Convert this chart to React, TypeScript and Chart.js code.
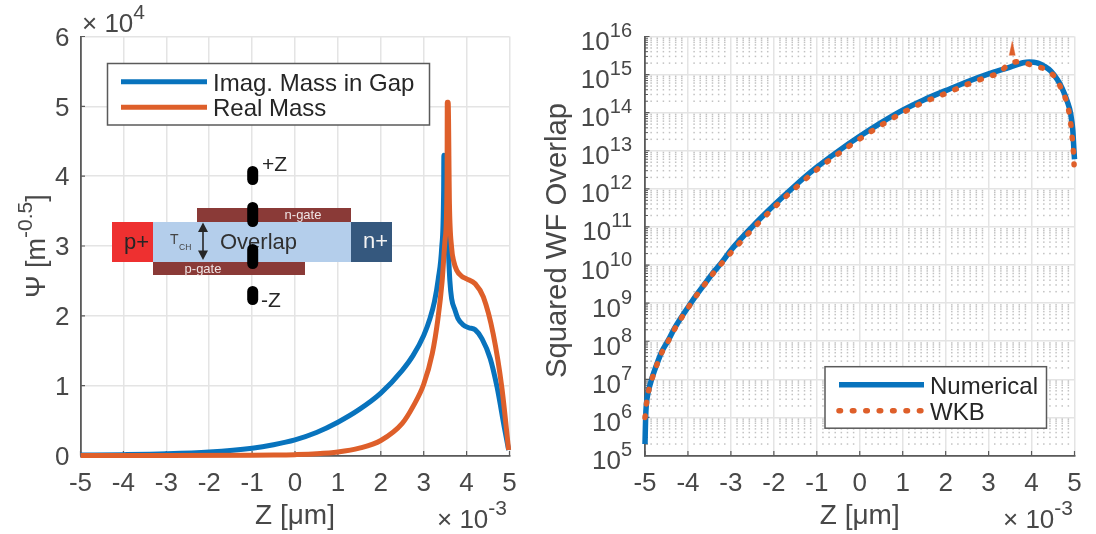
import React, { useEffect, useRef } from "react";
import { Chart, registerables } from "chart.js";

Chart.register(...registerables);

const FONT = '"Liberation Sans", Arial, sans-serif';
const TICK_COLOR = "#484848";
const TEXT_DARK = "#262626";
const BLUE = "#0873BD";
const ORANGE = "#DE5F2A";
const GRID = "#E4E4E4";
const AXIS = "#5A5A5A";

const xTicks = [-5, -4, -3, -2, -1, 0, 1, 2, 3, 4, 5];
const psiTicks = [0, 1, 2, 3, 4, 5, 6];
const decadeExponents = [5, 6, 7, 8, 9, 10, 11, 12, 13, 14, 15, 16];
const minorMultipliers = [2, 3, 4, 5, 6, 7, 8, 9];
const minorXFractions = [1 / 7, 2 / 7, 3 / 7, 4 / 7, 5 / 7, 6 / 7];

// left panel: Z in 1e-3 um, psi in 1e4
const imagZ = [-5, -4, -3, -2, -1, -0.5, 0, 0.5, 1, 1.5, 2, 2.5, 2.75, 3, 3.15, 3.25, 3.34, 3.42, 3.465, 3.47, 3.53, 3.57, 3.61, 3.65, 3.73, 3.8, 3.92, 4.05, 4.2, 4.36, 4.55, 4.71, 4.88, 4.98];
const imagPsi = [0.006, 0.012, 0.024, 0.05, 0.105, 0.155, 0.225, 0.33, 0.477, 0.66, 0.893, 1.22, 1.43, 1.72, 1.97, 2.2, 2.53, 2.98, 3.8, 4.3, 3.6, 3.0, 2.5, 2.25, 2.08, 1.96, 1.87, 1.83, 1.8, 1.67, 1.39, 0.98, 0.4, 0.08];

const realZ = [-5, -3, -1, -0.5, 0, 0.5, 1, 1.5, 2, 2.5, 2.75, 3, 3.2, 3.33, 3.43, 3.5, 3.545, 3.55, 3.57, 3.6, 3.65, 3.7, 3.77, 3.88, 4.0, 4.2, 4.39, 4.62, 4.82, 4.98];
const realPsi = [0.0003, 0.0005, 0.003, 0.006, 0.012, 0.024, 0.05, 0.105, 0.215, 0.46, 0.7, 1.02, 1.46, 1.95, 2.5, 3.1, 3.94, 5.06, 5.06, 3.6, 2.98, 2.78, 2.65, 2.57, 2.53, 2.46, 2.27, 1.74, 0.98, 0.08];

// right panel
const numericZ = [-5, -4.985, -4.97, -4.92, -4.84, -4.73, -4.61, -4.46, -4.32, -4.145, -3.97, -3.8, -3.6, -3.42, -3.21, -3, -2.5, -2, -1.5, -1, -0.5, 0, 0.5, 1, 1.5, 2, 2.5, 3, 3.5, 3.8, 3.95, 4.05, 4.15, 4.3, 4.45, 4.6, 4.71, 4.83, 4.91, 4.96, 4.99, 5];
const numericOverlap = [2e5, 1e6, 2.1e6, 4.9e6, 1.05e7, 2.4e7, 5.3e7, 1.05e8, 2.1e8, 4.4e8, 8.7e8, 1.65e9, 3.3e9, 6.2e9, 1.18e10, 2.45e10, 1.02e11, 3.7e11, 1.23e12, 3.7e12, 9.8e12, 2.4e13, 5.5e13, 1.17e14, 2.2e14, 3.8e14, 6.5e14, 1.05e15, 1.58e15, 2.05e15, 2.15e15, 2.12e15, 2e15, 1.65e15, 1.23e15, 7.4e14, 4.4e14, 2e14, 9.5e13, 3.5e13, 9e12, 6e12];

const wkbZ = [-5, -4.97, -4.92, -4.84, -4.73, -4.61, -4.46, -4.32, -4.145, -3.97, -3.8, -3.6, -3.42, -3.21, -3, -2.5, -2, -1.5, -1, -0.5, 0, 0.5, 1, 1.5, 2, 2.5, 3, 3.25, 3.46, 3.72, 4.01, 4.3, 4.54, 4.69, 4.81, 4.88, 4.92, 4.95, 4.977, 4.99];
const wkbOverlap = [1e6, 2.1e6, 4.7e6, 1e7, 2.3e7, 5e7, 1e8, 2e8, 4.2e8, 8.3e8, 1.6e9, 3.2e9, 5.9e9, 1.12e10, 2.1e10, 8.7e10, 3.2e11, 1.05e12, 3.2e12, 8.3e12, 2.05e13, 4.7e13, 1e14, 1.9e14, 3.2e14, 5.5e14, 8.9e14, 1.12e15, 1.85e15, 2.2e15, 1.75e15, 1.4e15, 8.7e14, 4.3e14, 2e14, 9.3e13, 4.4e13, 2e13, 9e12, 4.3e12];

const wkbSpikeZ = [3.48, 3.55, 3.62];
const wkbSpikeOverlap = [3.16e15, 7.4e15, 3.16e15];

const pair = (xs: number[], ys: number[]) => xs.map((x, i) => ({ x, y: ys[i] }));

function superText(
  ctx: CanvasRenderingContext2D,
  base: string,
  sup: string,
  x: number,
  y: number,
  size: number,
  supSize: number,
  rise: number,
  color: string,
) {
  ctx.fillStyle = color;
  ctx.textAlign = "left";
  ctx.textBaseline = "alphabetic";
  ctx.font = `${size}px ${FONT}`;
  ctx.fillText(base, x, y);
  const w = ctx.measureText(base).width;
  ctx.font = `${supSize}px ${FONT}`;
  ctx.fillText(sup, x + w, y - rise);
}

function drawLegend(
  ctx: CanvasRenderingContext2D,
  chart: any,
  box: [number, number, number, number],
  lineX: [number, number],
  rows: number[],
  textX: number,
) {
  ctx.save();
  ctx.fillStyle = "#fff";
  ctx.fillRect(box[0], box[1], box[2], box[3]);
  ctx.strokeStyle = "#5A5A5A";
  ctx.lineWidth = 1.5;
  ctx.strokeRect(box[0], box[1], box[2], box[3]);
  chart.data.datasets.forEach((ds: any, i: number) => {
    if (rows[i] === undefined) return;
    ctx.save();
    ctx.strokeStyle = ds.borderColor;
    ctx.lineWidth = ds.borderWidth;
    ctx.lineCap = ds.borderDash ? "round" : "butt";
    ctx.setLineDash(ds.borderDash || []);
    ctx.beginPath();
    ctx.moveTo(lineX[0], rows[i]);
    ctx.lineTo(lineX[1], rows[i]);
    ctx.stroke();
    ctx.restore();
    ctx.fillStyle = TEXT_DARK;
    ctx.font = `24px ${FONT}`;
    ctx.textAlign = "left";
    ctx.textBaseline = "middle";
    ctx.fillText(ds.label, textX, rows[i] + 2.5);
  });
  ctx.restore();
}

function inwardTicks(ctx: CanvasRenderingContext2D, chart: any) {
  const { x, y } = chart.scales;
  const a = chart.chartArea;
  ctx.save();
  ctx.strokeStyle = AXIS;
  ctx.lineWidth = 1.2;
  ctx.beginPath();
  xTicks.forEach((t) => {
    const p = x.getPixelForValue(t);
    ctx.moveTo(p, a.bottom);
    ctx.lineTo(p, a.bottom - 4.5);
  });
  y.ticks.forEach((t: any) => {
    const p = y.getPixelForValue(t.value);
    ctx.moveTo(a.left, p);
    ctx.lineTo(a.left + 4.5, p);
  });
  ctx.stroke();
  ctx.restore();
}

function pill(ctx: CanvasRenderingContext2D, cx: number, top: number, bottom: number) {
  ctx.beginPath();
  ctx.roundRect(cx - 5.5, top, 11, bottom - top, 5.5);
  ctx.fill();
}

function drawInset(ctx: CanvasRenderingContext2D) {
  ctx.save();
  const rect = (c: string, x0: number, y0: number, x1: number, y1: number) => {
    ctx.fillStyle = c;
    ctx.fillRect(x0, y0, x1 - x0, y1 - y0);
  };
  rect("#8A3A37", 197, 208, 351, 222);
  rect("#8A3A37", 153, 261, 305, 275);
  rect("#B4CEEB", 153, 222, 351, 262);
  rect("#EE3030", 112, 222, 153, 262);
  rect("#35587E", 351, 222, 392, 262);
  const label = (t: string, x: number, y: number, size: number, color: string, align: CanvasTextAlign = "left") => {
    ctx.font = `${size}px ${FONT}`;
    ctx.fillStyle = color;
    ctx.textAlign = align;
    ctx.textBaseline = "middle";
    ctx.fillText(t, x, y);
  };
  label("+Z", 262, 165, 21, TEXT_DARK);
  label("-Z", 261, 301, 21, TEXT_DARK);
  label("p+", 124, 243, 22, TEXT_DARK);
  label("n+", 363, 242, 22, "#F2F2F2");
  label("Overlap", 220, 243, 22, "#303030");
  label("T", 170, 240, 14, "#444");
  label("CH", 179, 248, 8.5, "#444");
  label("n-gate", 303, 215, 13, "#EFE4E4", "center");
  label("p-gate", 203, 269, 13, "#EFE4E4", "center");
  ctx.fillStyle = "#000";
  pill(ctx, 252.7, 166, 185);
  pill(ctx, 252.7, 202, 227);
  pill(ctx, 252.7, 244, 269);
  pill(ctx, 252.7, 286, 305);
  ctx.strokeStyle = "#262626";
  ctx.fillStyle = "#262626";
  ctx.lineWidth = 1.6;
  ctx.beginPath();
  ctx.moveTo(203, 226);
  ctx.lineTo(203, 256);
  ctx.stroke();
  ctx.beginPath();
  ctx.moveTo(203, 222.5);
  ctx.lineTo(198, 232);
  ctx.lineTo(208, 232);
  ctx.closePath();
  ctx.moveTo(203, 260);
  ctx.lineTo(198, 250.5);
  ctx.lineTo(208, 250.5);
  ctx.closePath();
  ctx.fill();
  ctx.restore();
}

const baseX = () => ({
  type: "linear",
  min: -5,
  max: 5,
  afterBuildTicks: (s: any) => {
    s.ticks = xTicks.map((value) => ({ value }));
  },
  afterFit: (s: any) => {
    s.height = 78.5;
  },
  ticks: {
    color: TICK_COLOR,
    font: { family: FONT, size: 26 },
    padding: 13,
    maxRotation: 0,
    autoSkip: false,
  },
  grid: { color: GRID, lineWidth: 1.5, drawTicks: false },
  border: { display: true, color: AXIS, width: 1.8 },
  title: {
    display: true,
    text: "Z [μm]",
    color: TICK_COLOR,
    font: { family: FONT, size: 28 },
    padding: { top: 0, bottom: 1.2 },
  },
});

const leftPlugin = {
  id: "leftExtras",
  beforeDatasetsDraw(chart: any) {
    inwardTicks(chart.ctx, chart);
  },
  afterDraw(chart: any) {
    const ctx = chart.ctx;
    drawInset(ctx);
    drawLegend(ctx, chart, [107.5, 63.5, 322, 61.5], [121, 207], [81.7, 107.3], 213);
    superText(ctx, "× 10", "4", 82, 32, 26, 21, 13, TICK_COLOR);
    superText(ctx, "× 10", "-3", 437, 528, 26, 21, 13, TICK_COLOR);
    ctx.save();
    ctx.translate(45, 298);
    ctx.rotate(-Math.PI / 2);
    superText(ctx, "Ψ [m", "-0.5", 0, 0, 27, 21, 13, TICK_COLOR);
    ctx.font = `27px ${FONT}`;
    const a = ctx.measureText("Ψ [m").width;
    ctx.font = `21px ${FONT}`;
    const w1 = a + ctx.measureText("-0.5").width;
    ctx.font = `27px ${FONT}`;
    ctx.fillText("]", w1, 0);
    ctx.restore();
  },
};

const rightPlugin = {
  id: "rightExtras",
  beforeDatasetsDraw(chart: any) {
    const ctx = chart.ctx;
    const { x, y } = chart.scales;
    ctx.save();
    ctx.fillStyle = "#C2C2C2";
    xTicks.slice(0, -1).forEach((major) => {
      minorXFractions.forEach((f) => {
        const px = x.getPixelForValue(major + f);
        decadeExponents.slice(0, -1).forEach((e) => {
          minorMultipliers.forEach((m) => {
            const py = y.getPixelForValue(m * Math.pow(10, e));
            ctx.fillRect(px - 0.75, py - 0.75, 1.5, 1.5);
          });
        });
      });
    });
    ctx.strokeStyle = AXIS;
    ctx.lineWidth = 1;
    ctx.beginPath();
    decadeExponents.slice(0, -1).forEach((e) => {
      minorMultipliers.forEach((m) => {
        const py = y.getPixelForValue(m * Math.pow(10, e));
        ctx.moveTo(chart.chartArea.left, py);
        ctx.lineTo(chart.chartArea.left + 3, py);
      });
    });
    ctx.stroke();
    ctx.restore();
    inwardTicks(ctx, chart);
  },
  afterDraw(chart: any) {
    const ctx = chart.ctx;
    const { y } = chart.scales;
    decadeExponents.forEach((e) => {
      const py = y.getPixelForValue(Math.pow(10, e));
      ctx.font = `20px ${FONT}`;
      const supW = ctx.measureText(String(e)).width;
      ctx.font = `26px ${FONT}`;
      const baseW = ctx.measureText("10").width;
      superText(ctx, "10", String(e), 632 - 530 - supW - baseW, py + 13.5, 26, 20, 13, TICK_COLOR);
    });
    drawLegend(ctx, chart, [825 - 530, 366.7, 221.5, 61.5], [839 - 530, 924 - 530], [384.7, 410.7], 930 - 530);
    superText(ctx, "× 10", "-3", 1003 - 530, 528, 26, 21, 13, TICK_COLOR);
    ctx.save();
    ctx.translate(566 - 1096 + 556 + 10, 240.5);
    ctx.rotate(-Math.PI / 2);
    ctx.font = `29.3px ${FONT}`;
    ctx.fillStyle = TICK_COLOR;
    ctx.textAlign = "center";
    ctx.textBaseline = "alphabetic";
    ctx.fillText("Squared WF Overlap", 0, 0);
    ctx.restore();
  },
};

export default function App() {
  const leftRef = useRef<HTMLCanvasElement>(null);
  const rightRef = useRef<HTMLCanvasElement>(null);

  useEffect(() => {
    const left = new Chart(leftRef.current as HTMLCanvasElement, {
      type: "line",
      plugins: [leftPlugin],
      data: {
        datasets: [
          { label: "Imag. Mass in Gap", data: pair(imagZ, imagPsi), borderColor: BLUE, borderWidth: 5, order: 2 },
          { label: "Real Mass", data: pair(realZ, realPsi), borderColor: ORANGE, borderWidth: 5, order: 1 },
        ],
      },
      options: {
        animation: false,
        responsive: false,
        parsing: false,
        normalized: true,
        layout: { padding: { top: 36.5, right: 20.5, left: 0, bottom: 0 } },
        elements: {
          point: { radius: 0 },
          line: { cubicInterpolationMode: "monotone", borderJoinStyle: "round" },
        },
        plugins: { legend: { display: false }, title: { display: false }, tooltip: { enabled: false } },
        datasets: { line: { clip: false } },
        scales: {
          x: baseX(),
          y: {
            type: "linear",
            min: 0,
            max: 6,
            afterBuildTicks: (s: any) => {
              s.ticks = psiTicks.map((value) => ({ value }));
            },
            afterFit: (s: any) => {
              s.width = 80.5;
            },
            ticks: { color: TICK_COLOR, font: { family: FONT, size: 26 }, padding: 11, autoSkip: false, labelOffset: 2 },
            grid: { color: GRID, lineWidth: 1.5, drawTicks: false },
            border: { display: true, color: AXIS, width: 1.8 },
          },
        },
      } as any,
    } as any);

    const right = new Chart(rightRef.current as HTMLCanvasElement, {
      type: "line",
      plugins: [rightPlugin],
      data: {
        datasets: [
          { label: "Numerical", data: pair(numericZ, numericOverlap), borderColor: BLUE, borderWidth: 5.5, order: 3 },
          {
            label: "WKB",
            data: pair(wkbZ, wkbOverlap),
            borderColor: ORANGE,
            borderWidth: 5.5,
            borderDash: [1.5, 11.9],
            borderCapStyle: "round",
            order: 2,
          },
          {
            label: "WKB peak",
            data: pair(wkbSpikeZ, wkbSpikeOverlap),
            borderColor: ORANGE,
            backgroundColor: ORANGE,
            borderWidth: 0.5,
            tension: 0,
            cubicInterpolationMode: "default",
            fill: { target: { value: wkbSpikeOverlap[0] } },
            order: 1,
          },
        ],
      },
      options: {
        animation: false,
        responsive: false,
        parsing: false,
        normalized: true,
        layout: { padding: { top: 36.5, right: 21.5, left: 0, bottom: 0 } },
        elements: {
          point: { radius: 0 },
          line: { cubicInterpolationMode: "monotone", borderJoinStyle: "round" },
        },
        plugins: { legend: { display: false }, title: { display: false }, tooltip: { enabled: false } },
        datasets: { line: { clip: false } },
        scales: {
          x: baseX(),
          y: {
            type: "logarithmic",
            min: 1e5,
            max: 1e16,
            afterBuildTicks: (s: any) => {
              s.ticks = decadeExponents.map((e) => ({ value: Math.pow(10, e), major: true }));
            },
            afterFit: (s: any) => {
              s.width = 115;
            },
            ticks: { display: false, autoSkip: false },
            grid: { color: GRID, lineWidth: 1.5, drawTicks: false },
            border: { display: true, color: AXIS, width: 1.8 },
          },
        },
      } as any,
    } as any);

    return () => {
      left.destroy();
      right.destroy();
    };
  }, []);

  return (
    <div style={{ position: "fixed", left: 0, top: 0, width: 1096, height: 534, overflow: "hidden", background: "#fff" }}>
      <canvas ref={leftRef} width={530} height={534} style={{ position: "absolute", left: 0, top: 0, display: "block" }} />
      <canvas ref={rightRef} width={566} height={534} style={{ position: "absolute", left: 530, top: 0, display: "block" }} />
    </div>
  );
}
